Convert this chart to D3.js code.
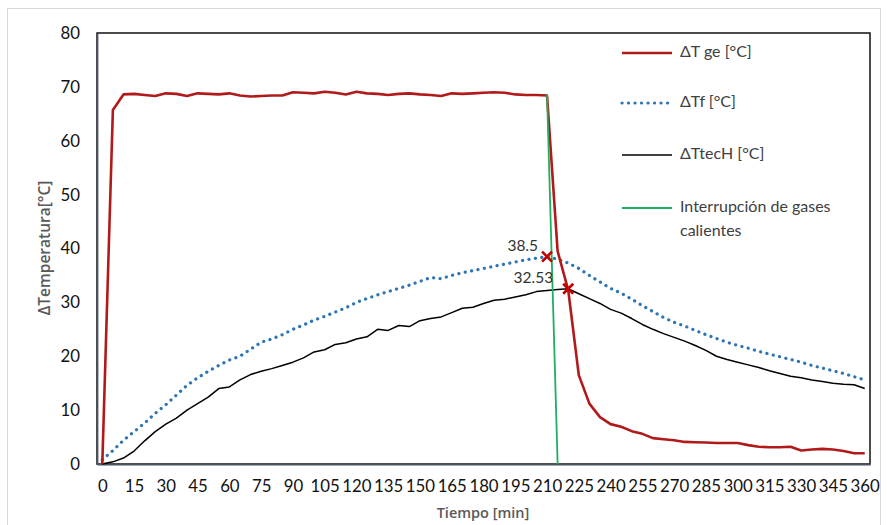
<!DOCTYPE html>
<html>
<head>
<meta charset="utf-8">
<script src="https://cdn.jsdelivr.net/npm/d3@7"></script>
<style>
  body { margin: 0; background: #fff; }
  svg { display: block; }
</style>
</head>
<body>
<div id="vis"></div>
<script>
// Time categories, every 5 minutes from 0 to 360
var times = d3.range(0, 365, 5);
var xTickLabels = [0, 15, 30, 45, 60, 75, 90, 105, 120, 135, 150, 165, 180, 195, 210, 225, 240, 255, 270, 285, 300, 315, 330, 345, 360];
var yTicks = [0, 10, 20, 30, 40, 50, 60, 70, 80];

// ΔT ge [°C] (hot gases)
var tGe = [0, 65.7, 68.6, 68.7, 68.5, 68.3, 68.8, 68.7, 68.3, 68.8,
  68.7, 68.6, 68.8, 68.4, 68.2, 68.3, 68.4, 68.4, 69.0, 68.9,
  68.8, 69.1, 68.9, 68.6, 69.1, 68.8, 68.7, 68.5, 68.7, 68.8,
  68.6, 68.5, 68.3, 68.8, 68.7, 68.8, 68.9, 69.0, 68.9, 68.6,
  68.5, 68.5, 68.4, 39.5, 32.3, 16.5, 11.2, 8.7, 7.4, 6.9,
  6.1, 5.6, 4.8, 4.6, 4.4, 4.1, 4.05, 4.0, 3.9, 3.9,
  3.9, 3.5, 3.2, 3.1, 3.1, 3.2, 2.5, 2.7, 2.8, 2.7,
  2.4, 2.0, 2.0];

// ΔTf [°C]
var tF = [0.8, 2.5, 4.4, 6.0, 7.6, 9.4, 11.0, 12.8, 14.6, 16.0,
  17.2, 18.3, 19.3, 20.0, 21.3, 22.6, 23.2, 24.0, 25.0, 25.8,
  26.7, 27.4, 28.2, 29.0, 30.0, 30.7, 31.4, 32.0, 32.6, 33.2,
  33.9, 34.6, 34.4, 35.0, 35.5, 35.9, 36.3, 36.7, 37.1, 37.5,
  37.9, 38.2, 38.5, 38.0, 37.3, 36.3, 35.0, 33.8, 32.6, 31.7,
  30.6, 29.4, 28.3, 27.2, 26.3, 25.6, 24.8, 24.0, 23.3, 22.6,
  22.0, 21.5, 20.9, 20.4, 19.9, 19.4, 18.9, 18.3, 17.8, 17.3,
  16.8, 16.2, 15.6];

// ΔTtecH [°C]
var tTecH = [0.0, 0.4, 1.1, 2.4, 4.3, 6.0, 7.4, 8.5, 10.0, 11.2,
  12.4, 14.0, 14.3, 15.6, 16.6, 17.2, 17.7, 18.3, 18.9, 19.7,
  20.8, 21.2, 22.2, 22.5, 23.2, 23.6, 25.0, 24.8, 25.7, 25.5,
  26.6, 27.0, 27.3, 28.1, 28.9, 29.1, 29.8, 30.4, 30.6, 31.0,
  31.4, 32.0, 32.2, 32.4, 32.53, 31.6, 30.7, 29.8, 28.7, 28.0,
  27.0, 25.9, 25.0, 24.2, 23.5, 22.8, 22.0, 21.1, 20.0, 19.4,
  18.9, 18.4, 17.9, 17.3, 16.8, 16.3, 16.0, 15.6, 15.3, 15.0,
  14.8, 14.7, 14.0];

// Interrupción de gases calientes
var cutTimes = [210, 215];
var cutValues = [68.6, 0];

// marked points
var markTimes = [210, 220];
var markValues = [38.5, 32.53];
var markLabels = ['38.5', '32.53'];

var legendNames = ['ΔT ge [°C]', 'ΔTf [°C]', 'ΔTtecH [°C]', 'Interrupción de gases|calientes'];

var width = 887, height = 525;
var plot = { left: 97, right: 870, top: 33, bottom: 464 };

var svg = d3.select('#vis').append('svg')
  .attr('width', width)
  .attr('height', height);

// outer chart border
svg.append('rect')
  .attr('x', 7.5).attr('y', 8.5)
  .attr('width', 873).attr('height', 530)
  .attr('fill', 'none')
  .attr('stroke', '#d9d9d9');

var x = d3.scalePoint()
  .domain(times)
  .range([plot.left, plot.right])
  .padding(0.5);

var y = d3.scaleLinear()
  .domain([0, 80])
  .range([plot.bottom, plot.top]);

// plot area frame
svg.append('rect')
  .attr('x', plot.left).attr('y', plot.top)
  .attr('width', plot.right - plot.left)
  .attr('height', plot.bottom - plot.top)
  .attr('fill', 'none')
  .attr('stroke', '#111')
  .attr('stroke-width', 1.5);

// axes
var xAxis = d3.axisBottom(x)
  .tickValues(xTickLabels)
  .tickSize(0)
  .tickPadding(16);

var gx = svg.append('g')
  .attr('transform', 'translate(0,' + plot.bottom + ')')
  .call(xAxis);
gx.select('.domain').attr('stroke', '#4b5463').attr('stroke-width', 1.8);
gx.selectAll('text')
  .attr('font-family', 'Lato, "Open Sans", sans-serif')
  .attr('font-size', 16.8)
  .attr('fill', '#111');

var yAxis = d3.axisLeft(y)
  .tickValues(yTicks)
  .tickSize(0)
  .tickPadding(17);

var gy = svg.append('g')
  .attr('transform', 'translate(' + plot.left + ',0)')
  .call(yAxis);
gy.select('.domain').attr('stroke', '#4b5463').attr('stroke-width', 1.8);
gy.selectAll('text')
  .attr('font-family', 'Lato, "Open Sans", sans-serif')
  .attr('font-size', 16.8)
  .attr('fill', '#111');

// axis titles
svg.append('text')
  .attr('transform', 'translate(46,248) rotate(-90)')
  .attr('text-anchor', 'middle')
  .attr('dominant-baseline', 'middle')
  .attr('font-family', '"Open Sans", sans-serif')
  .attr('font-size', 15.5)
  .attr('font-weight', 600)
  .attr('fill', '#595959')
  .text('ΔTemperatura[°C]');

svg.append('text')
  .attr('x', 483).attr('y', 514)
  .attr('text-anchor', 'middle')
  .attr('dominant-baseline', 'middle')
  .attr('font-family', '"Open Sans", sans-serif')
  .attr('font-size', 14.5)
  .attr('font-weight', 600)
  .attr('fill', '#595959')
  .text('Tiempo [min]');

// lines
var line = d3.line()
  .x(function (d) { return x(d[0]); })
  .y(function (d) { return y(d[1]); });

function pairs(vals) {
  return times.map(function (t, i) { return [t, vals[i]]; });
}

var styles = [
  { color: '#b01a1a', width: 2.6, dash: null, cap: 'butt' },
  { color: '#2e75b6', width: 3.2, dash: '0.1 6.4', cap: 'round' },
  { color: '#000000', width: 1.5, dash: null, cap: 'butt' },
  { color: '#1fae62', width: 1.8, dash: null, cap: 'butt' }
];

svg.append('path')
  .datum(pairs(tF))
  .attr('d', line)
  .attr('fill', 'none')
  .attr('stroke', styles[1].color)
  .attr('stroke-width', styles[1].width)
  .attr('stroke-dasharray', styles[1].dash)
  .attr('stroke-linecap', 'round');

svg.append('path')
  .datum(pairs(tTecH))
  .attr('d', line)
  .attr('fill', 'none')
  .attr('stroke', styles[2].color)
  .attr('stroke-width', styles[2].width)
  .attr('stroke-linejoin', 'round');

svg.append('path')
  .datum(pairs(tGe))
  .attr('d', line)
  .attr('fill', 'none')
  .attr('stroke', styles[0].color)
  .attr('stroke-width', styles[0].width)
  .attr('stroke-linejoin', 'round');

svg.append('path')
  .datum(cutTimes.map(function (t, i) { return [t, cutValues[i]]; }))
  .attr('d', line)
  .attr('fill', 'none')
  .attr('stroke', styles[3].color)
  .attr('stroke-width', styles[3].width);

// X markers and their labels
var labelDx = [-9, -15];
var marks = svg.selectAll('.mark')
  .data(markTimes.map(function (t, i) { return { t: t, v: markValues[i], label: markLabels[i], dx: labelDx[i] }; }))
  .enter().append('g')
  .attr('class', 'mark')
  .attr('transform', function (d) { return 'translate(' + x(d.t) + ',' + y(d.v) + ')'; });

marks.append('path')
  .attr('d', 'M-5,-5L5,5M-5,5L5,-5')
  .attr('stroke', '#c00000')
  .attr('stroke-width', 2.6);

marks.append('text')
  .attr('x', function (d) { return d.dx; })
  .attr('y', -6)
  .attr('text-anchor', 'end')
  .attr('font-family', 'Lato, "Open Sans", sans-serif')
  .attr('font-size', 15.5)
  .attr('fill', '#333')
  .text(function (d) { return d.label; });

// legend
var legend = svg.append('g').attr('transform', 'translate(622,0)');
var legendY = [53, 103, 155, 208];

legendNames.forEach(function (name, i) {
  var s = styles[i];
  legend.append('line')
    .attr('x1', 0).attr('x2', 50)
    .attr('y1', legendY[i]).attr('y2', legendY[i])
    .attr('stroke', s.color)
    .attr('stroke-width', s.width)
    .attr('stroke-dasharray', s.dash)
    .attr('stroke-linecap', s.cap);
  var t = legend.append('text')
    .attr('x', 58).attr('y', legendY[i])
    .attr('dominant-baseline', 'middle')
    .attr('font-family', 'Lato, "Open Sans", sans-serif')
    .attr('font-size', 16)
    .attr('fill', '#404040');
  name.split('|').forEach(function (part, j) {
    t.append('tspan')
      .attr('x', 58)
      .attr('dy', j === 0 ? 0 : 24)
      .text(part);
  });
});
</script>
</body>
</html>
